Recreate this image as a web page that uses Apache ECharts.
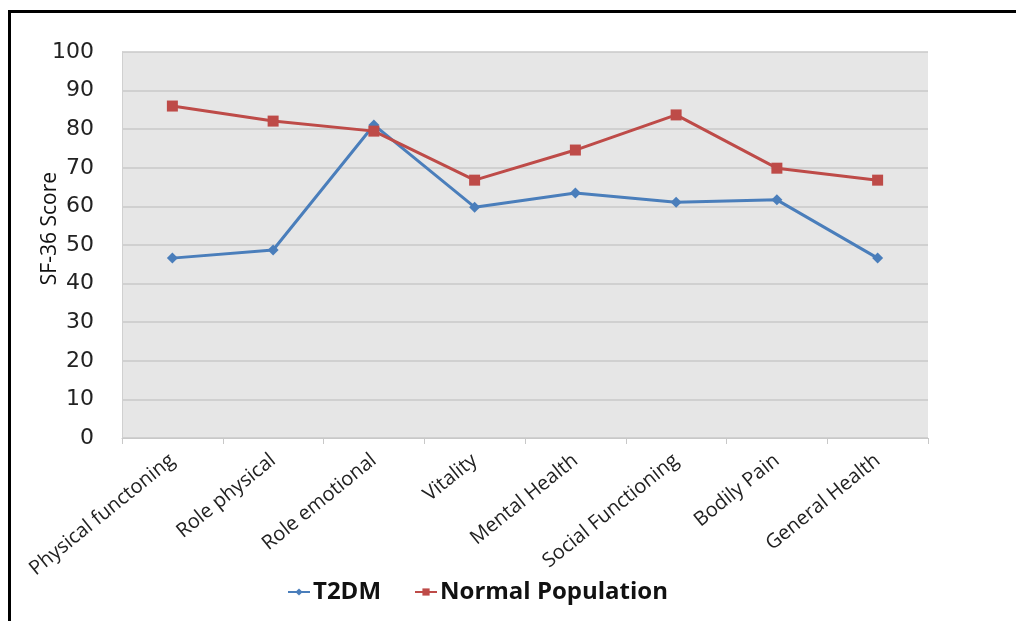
<!DOCTYPE html>
<html>
<head>
<meta charset="utf-8">
<script src="https://cdn.jsdelivr.net/npm/echarts@6/dist/echarts.min.js"></script>
<style>
  html, body { margin: 0; padding: 0; background: #fff; }
  #frame { position: absolute; left: 8px; top: 10px; width: 1020px; height: 640px; border: 3px solid #000; box-sizing: border-box; }
  #chart { position: absolute; left: 0; top: 0; width: 1016px; height: 621px; }
</style>
</head>
<body>
<div id="frame"></div>
<div id="chart"></div>
<script>
// SF-36 domains
var categories = ['Physical functoning', 'Role physical', 'Role emotional', 'Vitality',
                  'Mental Health', 'Social Functioning', 'Bodily Pain', 'General Health'];
var t2dm = [46.6, 48.7, 81.1, 59.8, 63.5, 61.1, 61.7, 46.6];
var normalPop = [86.0, 82.1, 79.5, 66.8, 74.6, 83.7, 69.9, 66.8];
var yTicks = { min: 0, max: 100, step: 10 };

var chart = echarts.init(document.getElementById('chart'));

var option = {
    animation: false,
    backgroundColor: 'transparent',
    grid: { left: 122, right: 88, top: 52, bottom: 183, containLabel: false,
            show: true, backgroundColor: '#e6e6e6', borderWidth: 0 },
    legend: {
        bottom: 12,
        left: 282,
        itemGap: 33,
        itemWidth: 22,
        itemHeight: 9,
        textStyle: { fontFamily: 'Open Sans', fontWeight: 'bold', fontSize: 24, color: '#111', padding: [0, 0, 0, -2] },
        data: ['T2DM', 'Normal Population']
    },
    graphic: [{
        type: 'text',
        left: 40,
        top: 172,
        rotation: Math.PI / 2,
        style: { text: 'SF-36 Score', font: '21px "Open Sans"', fill: '#111' }
    }],
    xAxis: {
        type: 'category',
        data: categories,
        boundaryGap: true,
        axisLine: { show: true, lineStyle: { color: '#c8c8c8', width: 1 } },
        axisTick: { show: true, length: 6, lineStyle: { color: '#c8c8c8' } },
        axisLabel: { rotate: 39, interval: 0, margin: 20, fontFamily: 'Open Sans',
                     fontSize: 20, color: '#222' }
    },
    yAxis: {
        type: 'value',
        min: yTicks.min,
        max: yTicks.max,
        interval: yTicks.step,
        axisLine: { show: true, lineStyle: { color: '#d0d0d0' } },
        axisTick: { show: false },
        splitLine: { lineStyle: { color: '#c8c8c8', width: 1.5 } },
        axisLabel: { margin: 28, fontFamily: 'DejaVu Sans', fontSize: 22, color: '#222' }
    },
    series: [
        {
            name: 'T2DM',
            type: 'line',
            data: t2dm,
            symbol: 'diamond',
            symbolSize: 11,
            color: '#4a7ebb',
            lineStyle: { width: 3, color: '#4a7ebb' },
            itemStyle: { color: '#4a7ebb' },
            z: 3
        },
        {
            name: 'Normal Population',
            type: 'line',
            data: normalPop,
            symbol: 'rect',
            symbolSize: 11,
            color: '#be4b48',
            lineStyle: { width: 3, color: '#be4b48' },
            itemStyle: { color: '#be4b48' },
            z: 4
        }
    ]
};
chart.setOption(option);
</script>
</body>
</html>
